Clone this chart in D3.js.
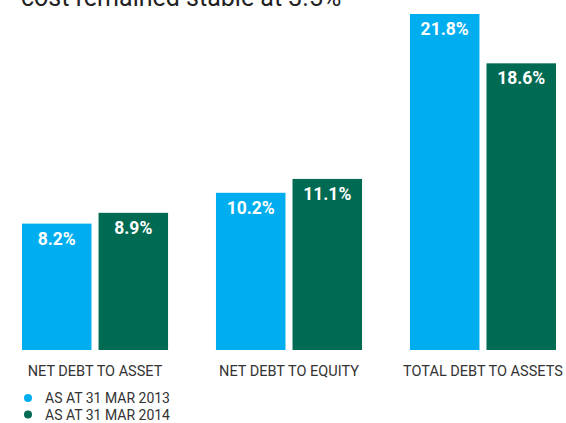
<!doctype html>
<html lang="en">
	<head>
		<meta charset="utf-8">
		<title>Debt ratios</title>
		<style type="text/css">
			body {
				margin: 0;
				background-color: white;
				font-family: Roboto, "Noto Sans", sans-serif;
			}
			svg {
				display: block;
				background-color: white;
			}
			.cat {
				font-size: 14.5px;
				fill: #333333;
			}
			.val {
				font-size: 17.5px;
				font-weight: bold;
				fill: white;
			}
			.leg {
				font-size: 14px;
				fill: #333333;
			}
			.title {
				font-size: 25px;
				fill: #222222;
			}
		</style>
	</head>
	<body>
		<script type="text/javascript" src="https://cdnjs.cloudflare.com/ajax/libs/d3/7.8.5/d3.min.js"></script>
		<script type="text/javascript">
			// data
			var categories = ["NET DEBT TO ASSET", "NET DEBT TO EQUITY", "TOTAL DEBT TO ASSETS"];
			var seriesNames = ["AS AT 31 MAR 2013", "AS AT 31 MAR 2014"];
			var values2013 = [8.2, 10.2, 21.8];
			var values2014 = [8.9, 11.1, 18.6];
			var colors = ["#00aeef", "#006a52"];

			var fullwidth = 566;
			var fullheight = 423;
			var margin = { top: 14, right: 10, bottom: 73, left: 22 };
			var width = 556 - margin.left;
			var height = fullheight - margin.top - margin.bottom;

			var svg = d3.select("body")
				.append("svg")
				.attr("width", fullwidth)
				.attr("height", fullheight);

			// cropped heading at the top
			svg.append("text")
				.attr("class", "title")
				.attr("x", 21)
				.attr("y", 6)
				.text("cost remained stable at 3.5%");

			var g = svg.append("g")
				.attr("transform", "translate(" + margin.left + "," + margin.top + ")");

			var xScale = d3.scaleBand()
				.domain(categories)
				.range([0, width])
				.paddingInner(0.247)
				.paddingOuter(0);

			var xInner = d3.scaleBand()
				.domain(seriesNames)
				.range([0, xScale.bandwidth()])
				.paddingInner(0.092);

			var yScale = d3.scaleLinear()
				.domain([0, d3.max(values2013.concat(values2014))])
				.range([height, 0]);

			var dataset = categories.map(function(c, i) {
				return {
					cat: c,
					vals: [
						{ series: seriesNames[0], amount: values2013[i], color: colors[0] },
						{ series: seriesNames[1], amount: values2014[i], color: colors[1] }
					]
				};
			});

			var groups = g.selectAll("g.grp")
				.data(dataset)
				.enter()
				.append("g")
				.attr("class", "grp")
				.attr("transform", function(d) {
					return "translate(" + xScale(d.cat) + ",0)";
				});

			groups.selectAll("rect")
				.data(function(d) { return d.vals; })
				.enter()
				.append("rect")
				.attr("x", function(d) { return xInner(d.series); })
				.attr("y", function(d) { return yScale(d.amount); })
				.attr("width", xInner.bandwidth())
				.attr("height", function(d) { return height - yScale(d.amount); })
				.attr("fill", function(d) { return d.color; });

			groups.selectAll("text.val")
				.data(function(d) { return d.vals; })
				.enter()
				.append("text")
				.attr("class", "val")
				.attr("x", function(d) { return xInner(d.series) + xInner.bandwidth() / 2; })
				.attr("y", function(d) { return yScale(d.amount) + 21; })
				.attr("text-anchor", "middle")
				.text(function(d) { return d.amount.toFixed(1) + "%"; });

			// category labels
			groups.append("text")
				.attr("class", "cat")
				.attr("x", xScale.bandwidth() / 2)
				.attr("y", height + 26)
				.attr("text-anchor", "middle")
				.text(function(d) { return d.cat; });

			// legend
			var legend = svg.selectAll("g.legend")
				.data(seriesNames)
				.enter()
				.append("g")
				.attr("class", "legend")
				.attr("transform", function(d, i) {
					return "translate(28," + (398 + i * 16.5) + ")";
				});
			legend.append("circle")
				.attr("r", 4)
				.attr("fill", function(d, i) { return colors[i]; });
			legend.append("text")
				.attr("class", "leg")
				.attr("x", 17)
				.attr("y", 5)
				.text(function(d) { return d; });
		</script>
	</body>
</html>
